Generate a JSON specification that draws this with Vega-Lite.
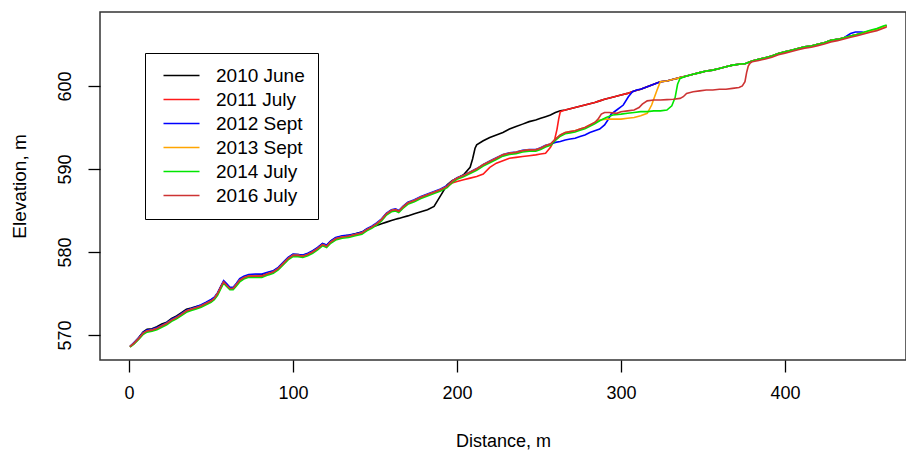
{
  "$schema": "https://vega.github.io/schema/vega-lite/v6.json",
  "width": 806,
  "height": 348,
  "autosize": {"type": "none"},
  "padding": {"left": 100, "top": 12, "right": 0, "bottom": 95},
  "background": "#ffffff",
  "config": {
    "view": {"stroke": "#333333", "strokeWidth": 1.5},
    "font": "Liberation Sans"
  },
  "datasets": {
    "names": [
      {"k": "a", "survey": "2010 June"},
      {"k": "b", "survey": "2011 July"},
      {"k": "c", "survey": "2012 Sept"},
      {"k": "d", "survey": "2013 Sept"},
      {"k": "e", "survey": "2014 July"},
      {"k": "f", "survey": "2016 July"}
    ]
  },
  "data": {"values": [
    {"x":0.6,"a":568.6,"b":568.6,"c":568.65,"d":568.6,"e":568.55,"f":568.6},
    {"x":3,"a":569.05,"b":569.0,"c":569.1,"d":569.0,"e":568.9,"f":569.0},
    {"x":6,"a":569.7,"b":569.6,"c":569.7,"d":569.6,"e":569.5,"f":569.6},
    {"x":8.5,"a":570.35,"b":570.2,"c":570.3,"d":570.2,"e":570.05,"f":570.2},
    {"x":11,"a":570.7,"b":570.5,"c":570.6,"d":570.5,"e":570.35,"f":570.5},
    {"x":14,"a":570.75,"b":570.6,"c":570.7,"d":570.6,"e":570.45,"f":570.6},
    {"x":17,"a":571.0,"b":570.8,"c":570.9,"d":570.8,"e":570.65,"f":570.8},
    {"x":20,"a":571.35,"b":571.1,"c":571.2,"d":571.1,"e":570.95,"f":571.1},
    {"x":23,"a":571.55,"b":571.4,"c":571.5,"d":571.4,"e":571.25,"f":571.4},
    {"x":26,"a":572.0,"b":571.8,"c":571.9,"d":571.8,"e":571.65,"f":571.8},
    {"x":29,"a":572.3,"b":572.1,"c":572.2,"d":572.1,"e":571.95,"f":572.1},
    {"x":32,"a":572.7,"b":572.5,"c":572.6,"d":572.5,"e":572.35,"f":572.5},
    {"x":35,"a":573.1,"b":572.9,"c":573.0,"d":572.9,"e":572.75,"f":572.9},
    {"x":38,"a":573.25,"b":573.1,"c":573.2,"d":573.1,"e":572.95,"f":573.1},
    {"x":41,"a":573.45,"b":573.3,"c":573.4,"d":573.3,"e":573.15,"f":573.3},
    {"x":44,"a":573.6,"b":573.5,"c":573.65,"d":573.5,"e":573.35,"f":573.5},
    {"x":47,"a":573.9,"b":573.8,"c":573.95,"d":573.8,"e":573.65,"f":573.8},
    {"x":50,"a":574.2,"b":574.1,"c":574.3,"d":574.1,"e":573.95,"f":574.1},
    {"x":52,"a":574.45,"b":574.4,"c":574.55,"d":574.4,"e":574.25,"f":574.4},
    {"x":54,"a":575.0,"b":575.0,"c":575.1,"d":575.0,"e":574.8,"f":575.0},
    {"x":56,"a":575.8,"b":575.8,"c":575.9,"d":575.75,"e":575.6,"f":575.8},
    {"x":57.7,"a":576.4,"b":576.4,"c":576.55,"d":576.35,"e":576.25,"f":576.4},
    {"x":59.5,"a":576.0,"b":576.0,"c":576.2,"d":575.95,"e":575.85,"f":576.0},
    {"x":61.5,"a":575.6,"b":575.6,"c":575.75,"d":575.55,"e":575.45,"f":575.6},
    {"x":63.5,"a":575.6,"b":575.6,"c":575.75,"d":575.6,"e":575.45,"f":575.6},
    {"x":65.5,"a":576.1,"b":576.1,"c":576.25,"d":576.1,"e":575.9,"f":576.1},
    {"x":67.5,"a":576.65,"b":576.6,"c":576.8,"d":576.6,"e":576.4,"f":576.6},
    {"x":70,"a":577.0,"b":576.9,"c":577.1,"d":576.9,"e":576.75,"f":576.9},
    {"x":73,"a":577.2,"b":577.1,"c":577.3,"d":577.1,"e":576.95,"f":577.1},
    {"x":77,"a":577.2,"b":577.1,"c":577.35,"d":577.1,"e":576.95,"f":577.1},
    {"x":81,"a":577.25,"b":577.1,"c":577.35,"d":577.1,"e":576.95,"f":577.1},
    {"x":85,"a":577.5,"b":577.4,"c":577.6,"d":577.4,"e":577.25,"f":577.4},
    {"x":88,"a":577.7,"b":577.6,"c":577.75,"d":577.6,"e":577.45,"f":577.6},
    {"x":91,"a":578.1,"b":578.0,"c":578.15,"d":578.0,"e":577.85,"f":578.0},
    {"x":94,"a":578.7,"b":578.6,"c":578.75,"d":578.6,"e":578.45,"f":578.6},
    {"x":97,"a":579.3,"b":579.2,"c":579.35,"d":579.2,"e":579.05,"f":579.2},
    {"x":100,"a":579.7,"b":579.6,"c":579.75,"d":579.6,"e":579.45,"f":579.6},
    {"x":103,"a":579.7,"b":579.6,"c":579.7,"d":579.6,"e":579.45,"f":579.6},
    {"x":106,"a":579.6,"b":579.5,"c":579.65,"d":579.5,"e":579.35,"f":579.5},
    {"x":109,"a":579.8,"b":579.7,"c":579.85,"d":579.7,"e":579.55,"f":579.7},
    {"x":112,"a":580.1,"b":580.0,"c":580.15,"d":580.0,"e":579.85,"f":580.0},
    {"x":115,"a":580.5,"b":580.4,"c":580.55,"d":580.4,"e":580.25,"f":580.4},
    {"x":118,"a":581.0,"b":580.9,"c":581.05,"d":580.9,"e":580.75,"f":580.9},
    {"x":120.5,"a":580.8,"b":580.7,"c":580.85,"d":580.7,"e":580.55,"f":580.7},
    {"x":123,"a":581.3,"b":581.2,"c":581.35,"d":581.2,"e":581.05,"f":581.2},
    {"x":126,"a":581.7,"b":581.6,"c":581.75,"d":581.6,"e":581.45,"f":581.6},
    {"x":130,"a":581.9,"b":581.8,"c":581.95,"d":581.8,"e":581.65,"f":581.8},
    {"x":134,"a":582.0,"b":581.9,"c":582.05,"d":581.9,"e":581.75,"f":581.9},
    {"x":138,"a":582.2,"b":582.1,"c":582.2,"d":582.1,"e":581.95,"f":582.1},
    {"x":142,"a":582.4,"b":582.3,"c":582.4,"d":582.3,"e":582.15,"f":582.3},
    {"x":145,"a":582.75,"b":582.7,"c":582.8,"d":582.7,"e":582.55,"f":582.7},
    {"x":148,"a":583.0,"b":583.0,"c":583.1,"d":583.0,"e":582.85,"f":583.0},
    {"x":151,"a":583.2,"b":583.4,"c":583.5,"d":583.4,"e":583.25,"f":583.4},
    {"x":154,"a":583.4,"b":583.9,"c":584.0,"d":583.9,"e":583.75,"f":583.9},
    {"x":157,"a":583.6,"b":584.6,"c":584.7,"d":584.6,"e":584.45,"f":584.6},
    {"x":160,"a":583.8,"b":585.0,"c":585.1,"d":585.0,"e":584.85,"f":585.0},
    {"x":162.5,"a":583.95,"b":585.1,"c":585.2,"d":585.1,"e":584.95,"f":585.1},
    {"x":164.5,"a":584.05,"b":584.9,"c":585.0,"d":584.9,"e":584.75,"f":584.9},
    {"x":167,"a":584.2,"b":585.4,"c":585.5,"d":585.4,"e":585.25,"f":585.4},
    {"x":170,"a":584.35,"b":585.9,"c":586.0,"d":585.9,"e":585.75,"f":585.9},
    {"x":174,"a":584.6,"b":586.2,"c":586.3,"d":586.2,"e":586.05,"f":586.2},
    {"x":178,"a":584.85,"b":586.6,"c":586.7,"d":586.6,"e":586.45,"f":586.6},
    {"x":182,"a":585.1,"b":586.9,"c":587.0,"d":586.9,"e":586.75,"f":586.9},
    {"x":186,"a":585.5,"b":587.2,"c":587.3,"d":587.2,"e":587.05,"f":587.2},
    {"x":190,"a":586.8,"b":587.5,"c":587.6,"d":587.5,"e":587.35,"f":587.5},
    {"x":194,"a":588.1,"b":587.9,"c":588.0,"d":587.9,"e":587.75,"f":587.9},
    {"x":197,"a":588.6,"b":588.3,"c":588.55,"d":588.5,"e":588.35,"f":588.5},
    {"x":200,"a":588.9,"b":588.5,"c":588.95,"d":588.9,"e":588.75,"f":588.9},
    {"x":204,"a":589.3,"b":588.7,"c":589.25,"d":589.2,"e":589.05,"f":589.2},
    {"x":208,"a":590.2,"b":588.9,"c":589.65,"d":589.6,"e":589.45,"f":589.6},
    {"x":209.5,"a":591.2},
    {"x":211,"a":592.5},
    {"x":212,"a":592.9,"b":589.1,"c":590.05,"d":590.0,"e":589.85,"f":590.0},
    {"x":216,"a":593.4,"b":589.4,"c":590.55,"d":590.5,"e":590.35,"f":590.5},
    {"x":220,"a":593.8,"b":590.2,"c":590.95,"d":590.9,"e":590.75,"f":590.9},
    {"x":224,"a":594.1,"b":590.7,"c":591.35,"d":591.3,"e":591.15,"f":591.3},
    {"x":228,"a":594.4,"b":591.0,"c":591.75,"d":591.7,"e":591.55,"f":591.7},
    {"x":232,"a":594.8,"b":591.3,"c":591.95,"d":591.9,"e":591.75,"f":591.9},
    {"x":236,"a":595.1,"b":591.4,"c":592.05,"d":592.0,"e":591.85,"f":592.0},
    {"x":240,"a":595.4,"b":591.5,"c":592.25,"d":592.2,"e":592.05,"f":592.2},
    {"x":244,"a":595.7,"b":591.6,"c":592.35,"d":592.3,"e":592.15,"f":592.3},
    {"x":248,"a":595.9,"b":591.7,"c":592.35,"d":592.3,"e":592.15,"f":592.3},
    {"x":251,"a":596.1,"b":591.8,"c":592.55,"d":592.5,"e":592.35,"f":592.5},
    {"x":254,"a":596.3,"b":591.9,"c":592.85,"d":592.8,"e":592.65,"f":592.8},
    {"x":257,"a":596.5,"b":592.6,"c":593.0,"d":593.0,"e":592.85,"f":593.0},
    {"x":259.5,"b":593.5},
    {"x":260,"a":596.8,"c":593.2,"d":593.6,"e":593.45,"f":593.6},
    {"x":261,"b":594.8},
    {"x":262,"b":596.0},
    {"x":263,"a":597.0,"b":596.9,"c":593.3,"d":594.1,"e":593.95,"f":594.1},
    {"x":266,"a":597.1,"b":597.1,"c":593.5,"d":594.4,"e":594.25,"f":594.4},
    {"x":269,"a":597.25,"b":597.25,"c":593.6,"d":594.5,"e":594.35,"f":594.5},
    {"x":272,"a":597.4,"b":597.4,"c":593.7,"d":594.6,"e":594.45,"f":594.6},
    {"x":275,"a":597.55,"b":597.55,"c":593.9,"d":594.8,"e":594.65,"f":594.8},
    {"x":278,"a":597.7,"b":597.7,"c":594.1,"d":595.0,"e":594.85,"f":595.0},
    {"x":281,"a":597.85,"b":597.85,"c":594.4,"d":595.3,"e":595.15,"f":595.3},
    {"x":284,"a":598.0,"b":598.0,"c":594.6,"d":595.6,"e":595.45,"f":595.6},
    {"x":286,"f":596.0},
    {"x":287,"a":598.2,"b":598.2,"c":594.8,"d":595.9,"e":595.8},
    {"x":288,"f":596.6},
    {"x":290,"a":598.4,"b":598.4,"c":595.3,"f":596.8},
    {"x":291,"d":596.0,"e":596.2},
    {"x":292,"c":595.9},
    {"x":293,"f":596.8},
    {"x":294,"c":596.6},
    {"x":295,"d":596.0,"e":596.5},
    {"x":296,"a":598.7,"b":598.7},
    {"x":297.4,"c":597.1,"f":596.7},
    {"x":300,"a":598.9,"b":598.9,"d":596.0,"e":596.6,"f":596.9},
    {"x":301.4,"c":597.7},
    {"x":304,"a":599.1,"b":599.1,"d":596.1,"e":596.7,"f":597.0},
    {"x":304.5,"c":598.7},
    {"x":307,"c":599.3},
    {"x":308,"a":599.4,"b":599.4,"d":596.2,"e":596.8,"f":597.1},
    {"x":310,"c":599.55},
    {"x":311,"f":597.4},
    {"x":312,"a":599.6,"b":599.6,"c":599.6,"d":596.4,"e":596.9},
    {"x":313,"f":597.8},
    {"x":316,"a":599.9,"b":599.9,"c":599.9,"d":596.7,"e":596.9,"f":598.2},
    {"x":318.7,"d":597.7},
    {"x":320,"a":600.2,"b":600.2,"c":600.2,"e":597.0,"f":598.3},
    {"x":320.5,"d":598.7},
    {"x":322,"d":599.5},
    {"x":324,"a":600.5,"b":600.5,"c":600.5,"d":600.5,"e":597.0,"f":598.3},
    {"x":328,"a":600.6,"b":600.6,"c":600.6,"d":600.6,"e":597.1,"f":598.35},
    {"x":331,"e":597.6},
    {"x":332,"a":600.8,"b":600.8,"c":600.8,"d":600.8,"f":598.4},
    {"x":333,"e":598.6},
    {"x":334.5,"e":600.2},
    {"x":336,"a":601.0,"b":601.0,"c":601.0,"d":601.0,"e":600.9,"f":598.5},
    {"x":338,"f":598.7},
    {"x":340,"a":601.2,"b":601.2,"c":601.2,"d":601.2,"e":601.2,"f":599.1},
    {"x":344,"a":601.4,"b":601.4,"c":601.4,"d":601.4,"e":601.4,"f":599.3},
    {"x":348,"a":601.6,"b":601.6,"c":601.6,"d":601.6,"e":601.6,"f":599.4},
    {"x":352,"a":601.8,"b":601.8,"c":601.8,"d":601.8,"e":601.8,"f":599.5},
    {"x":356,"a":601.9,"b":601.9,"c":601.9,"d":601.9,"e":601.9,"f":599.5},
    {"x":360,"a":602.1,"b":602.1,"c":602.1,"d":602.1,"e":602.1,"f":599.6},
    {"x":364,"a":602.3,"b":602.3,"c":602.3,"d":602.3,"e":602.3,"f":599.6},
    {"x":368,"a":602.5,"b":602.5,"c":602.5,"d":602.5,"e":602.5,"f":599.7},
    {"x":372,"a":602.6,"b":602.6,"c":602.6,"d":602.6,"e":602.6,"f":599.8},
    {"x":374,"f":600.0},
    {"x":375.6,"f":600.5},
    {"x":376,"a":602.7,"b":602.7,"c":602.7,"d":602.7,"e":602.7},
    {"x":376.6,"f":601.6},
    {"x":377.6,"f":602.4},
    {"x":379,"f":602.8},
    {"x":380,"a":603.0,"b":603.0,"c":603.0,"d":603.0,"e":603.0,"f":602.9},
    {"x":384,"a":603.2,"b":603.2,"c":603.2,"d":603.2,"e":603.2,"f":603.05},
    {"x":388,"a":603.4,"b":603.4,"c":603.4,"d":603.4,"e":603.4,"f":603.25},
    {"x":392,"a":603.6,"b":603.6,"c":603.6,"d":603.6,"e":603.6,"f":603.45},
    {"x":396,"a":603.9,"b":603.9,"c":603.9,"d":603.9,"e":603.9,"f":603.75},
    {"x":400,"a":604.1,"b":604.1,"c":604.1,"d":604.1,"e":604.1,"f":603.95},
    {"x":404,"a":604.3,"b":604.3,"c":604.3,"d":604.3,"e":604.3,"f":604.15},
    {"x":408,"a":604.5,"b":604.5,"c":604.5,"d":604.5,"e":604.5,"f":604.35},
    {"x":412,"a":604.7,"b":604.7,"c":604.7,"d":604.7,"e":604.7,"f":604.55},
    {"x":416,"a":604.8,"b":604.8,"c":604.8,"d":604.8,"e":604.8,"f":604.65},
    {"x":420,"a":605.0,"b":605.0,"c":605.0,"d":605.0,"e":605.0,"f":604.85},
    {"x":424,"a":605.2,"b":605.2,"c":605.2,"d":605.2,"e":605.2,"f":605.05},
    {"x":428,"a":605.5,"b":605.5,"c":605.5,"d":605.5,"e":605.5,"f":605.3},
    {"x":432,"a":605.6,"b":605.6,"c":605.6,"d":605.6,"e":605.6,"f":605.45},
    {"x":436,"a":605.8,"b":605.8,"c":605.8,"d":605.8,"e":605.8,"f":605.65},
    {"x":440,"a":606.0,"b":606.0,"c":606.3,"d":606.0,"e":606.0,"f":605.85},
    {"x":443,"c":606.5},
    {"x":444,"a":606.2,"b":606.2,"d":606.2,"e":606.2,"f":606.05},
    {"x":447,"c":606.5},
    {"x":448,"a":606.4,"b":606.4,"c":606.4,"d":606.4,"e":606.45,"f":606.25},
    {"x":452,"a":606.6,"b":606.6,"c":606.6,"d":606.6,"e":606.7,"f":606.45},
    {"x":456,"a":606.8,"b":606.8,"c":606.8,"d":606.8,"e":606.9,"f":606.65},
    {"x":460,"a":607.1,"b":607.1,"c":607.1,"d":607.1,"e":607.2,"f":606.95},
    {"x":462,"a":607.25,"b":607.25,"c":607.25,"d":607.25,"e":607.35,"f":607.1}
  ]},
  "transform": [
    {"fold": ["a", "b", "c", "d", "e", "f"], "as": ["k", "elev"]},
    {"filter": "isValid(datum.elev)"},
    {"lookup": "k", "from": {"data": {"name": "names"}, "key": "k", "fields": ["survey"]}}
  ],
  "mark": {"type": "line", "strokeWidth": 1.6, "clip": true},
  "encoding": {
    "x": {
      "field": "x", "type": "quantitative",
      "scale": {"domain": [-17.7, 473.8], "nice": false, "zero": false},
      "axis": {
        "values": [0, 100, 200, 300, 400],
        "domain": false, "grid": false,
        "tickSize": 12, "tickColor": "#000", "tickWidth": 1.3,
        "labelFontSize": 18, "labelPadding": 12, "labelColor": "#000",
        "labelFont": "Liberation Sans",
        "title": "Distance, m", "titleFontSize": 18, "titleFontWeight": "normal",
        "titleColor": "#000", "titleFont": "Liberation Sans", "titlePadding": 30
      }
    },
    "y": {
      "field": "elev", "type": "quantitative",
      "scale": {"domain": [567.0, 608.9], "nice": false, "zero": false},
      "axis": {
        "values": [570, 580, 590, 600],
        "domain": false, "grid": false,
        "tickSize": 12, "tickColor": "#000", "tickWidth": 1.3,
        "labelFontSize": 18, "labelPadding": 14, "labelColor": "#000",
        "labelFont": "Liberation Sans",
        "labelAngle": -90, "labelAlign": "center", "labelBaseline": "bottom",
        "title": "Elevation, m", "titleFontSize": 19, "titleFontWeight": "normal",
        "titleColor": "#000", "titleFont": "Liberation Sans", "titlePadding": 27
      }
    },
    "color": {
      "field": "survey", "type": "nominal",
      "scale": {
        "domain": ["2010 June", "2011 July", "2012 Sept", "2013 Sept", "2014 July", "2016 July"],
        "range": ["#000000", "#FF1A1A", "#0000FF", "#FFA500", "#00E600", "#CD3333"]
      },
      "legend": {
        "orient": "none", "legendX": 45, "legendY": 41,
        "title": null,
        "strokeColor": "#000", "fillColor": "#ffffff", "padding": 13,
        "symbolType": "M-3,0H3", "symbolSize": 144, "symbolStrokeWidth": 1.6,
        "symbolOffset": 14,
        "labelFontSize": 19, "labelFont": "Liberation Sans", "labelColor": "#000",
        "labelOffset": 25, "rowPadding": 4
      }
    }
  }
}
